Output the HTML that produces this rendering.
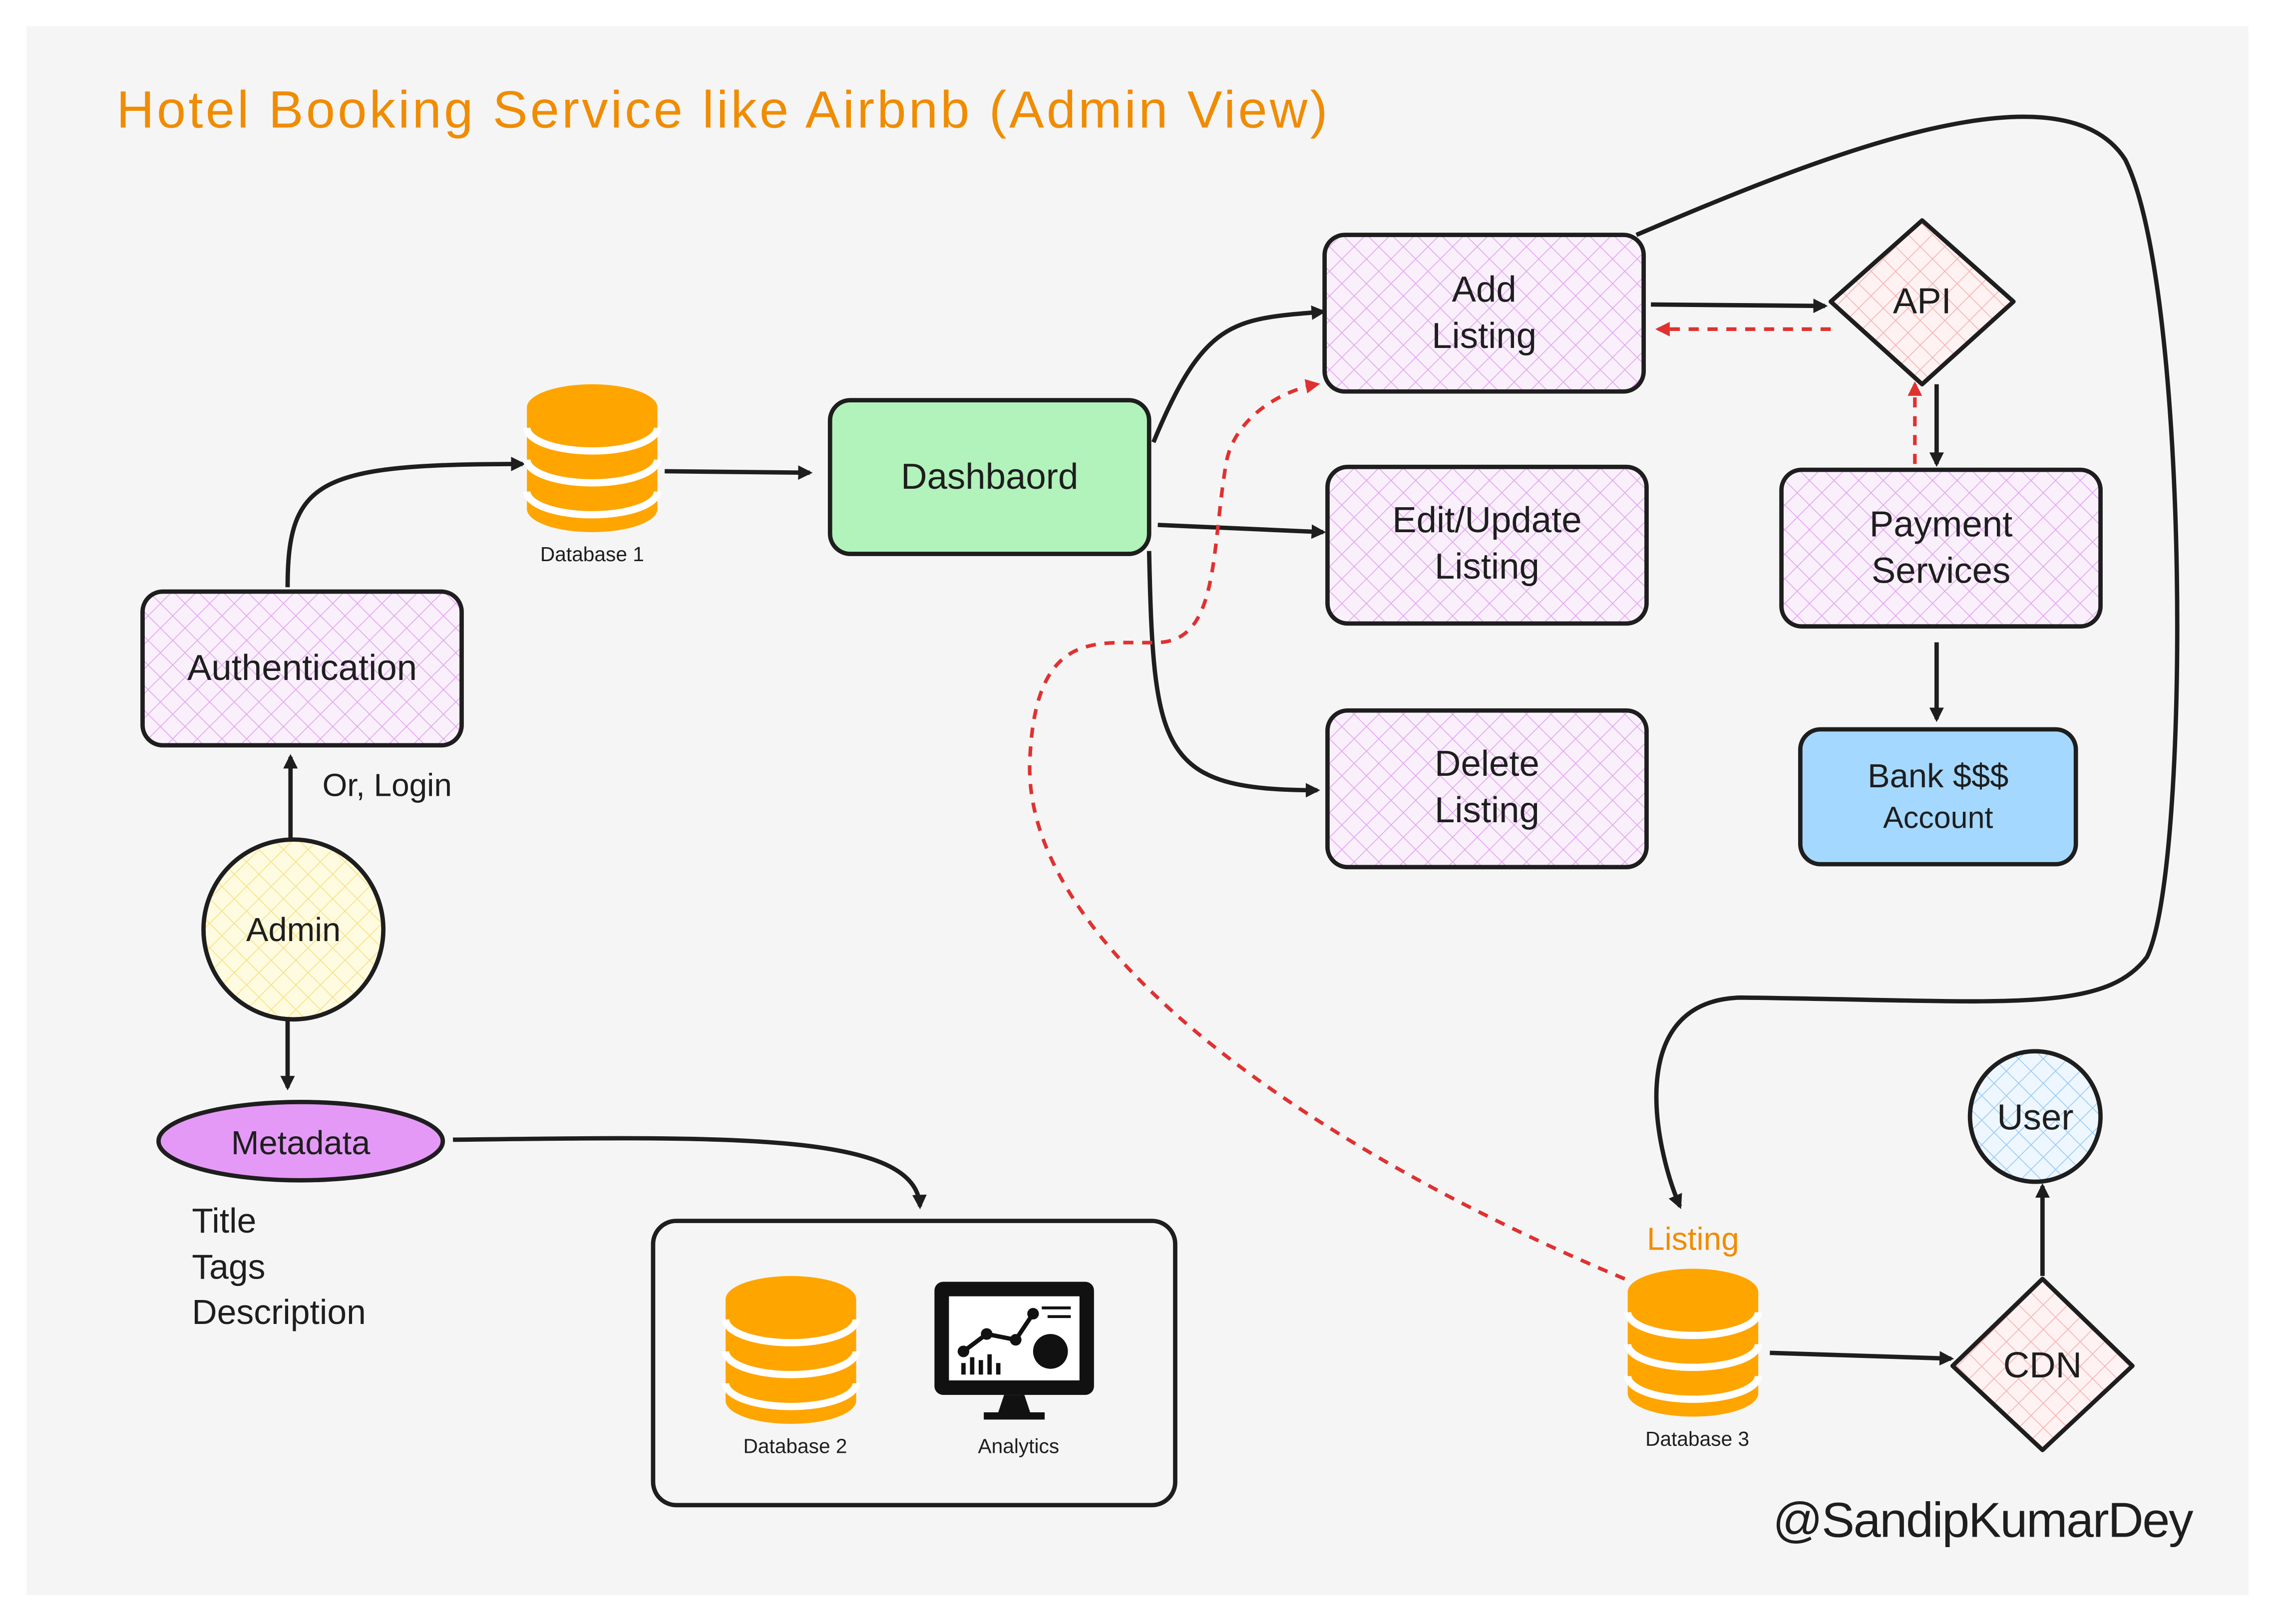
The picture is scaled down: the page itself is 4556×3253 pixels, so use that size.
<!DOCTYPE html>
<html><head><meta charset="utf-8"><style>
html,body{margin:0;padding:0;background:#fff;}
svg{display:block;}
text{font-family:"Liberation Sans",sans-serif;fill:#1e1e1e;}
</style></head><body>
<svg width="4556" height="3253" viewBox="0 0 1568 1120" xmlns="http://www.w3.org/2000/svg">
<defs>
<pattern id="hp" width="12" height="12" patternUnits="userSpaceOnUse" patternTransform="rotate(45)"><rect width="12" height="12" fill="#faf0fc"/><path d="M0 0V12M0 0H12" stroke="#e2a8ef" stroke-width="1.2"/></pattern>
<pattern id="hy" width="12" height="12" patternUnits="userSpaceOnUse" patternTransform="rotate(45)"><rect width="12" height="12" fill="#fffbe0"/><path d="M0 0V12M0 0H12" stroke="#f5e28a" stroke-width="1.2"/></pattern>
<pattern id="hr" width="12" height="12" patternUnits="userSpaceOnUse" patternTransform="rotate(45)"><rect width="12" height="12" fill="#fff2f2"/><path d="M0 0V12M0 0H12" stroke="#f5b5b5" stroke-width="1.2"/></pattern>
<pattern id="hb" width="12" height="12" patternUnits="userSpaceOnUse" patternTransform="rotate(45)"><rect width="12" height="12" fill="#eef7ff"/><path d="M0 0V12M0 0H12" stroke="#9ccbf5" stroke-width="1.2"/></pattern>
<marker id="a" markerWidth="10" markerHeight="10" refX="8" refY="5" orient="auto" markerUnits="userSpaceOnUse"><path d="M0,0 L10,5 L0,10 z" fill="#1e1e1e"/></marker>
<marker id="ar" markerWidth="10" markerHeight="10" refX="8" refY="5" orient="auto" markerUnits="userSpaceOnUse"><path d="M0,0 L10,5 L0,10 z" fill="#e03131"/></marker>
<g id="db">
<path d="M0,16 V86 A45,16 0 0 0 90,86 V16" fill="#ffa500"/>
<ellipse cx="45" cy="16" rx="45" ry="16" fill="#ffa500"/>
<path d="M0,30 A45,16 0 0 0 90,30 M0,52 A45,16 0 0 0 90,52 M0,74 A45,16 0 0 0 90,74" fill="none" stroke="#fff" stroke-width="5"/>
</g>
</defs>
<rect width="1568" height="1120" fill="#fff"/>
<rect x="18" y="18" width="1532" height="1082" fill="#f5f5f5"/>

<text x="80" y="88" font-size="36" fill="#f08c00" style="fill:#f08c00" textLength="835">Hotel Booking Service like Airbnb (Admin View)</text>

<g stroke="#1e1e1e" stroke-width="3" fill="none">
<path d="M198,405 C198,330 220,320 360,320" marker-end="url(#a)"/>
<path d="M458,325 L558,326" marker-end="url(#a)"/>
<path d="M795,305 C830,220 850,220 912,215" marker-end="url(#a)"/>
<path d="M798,362 L912,367" marker-end="url(#a)"/>
<path d="M792,380 C795,520 800,545 908,545" marker-end="url(#a)"/>
<path d="M1138,210 L1258,211" marker-end="url(#a)"/>
<path d="M1335,265 L1335,320" marker-end="url(#a)"/>
<path d="M1335,443 L1335,496" marker-end="url(#a)"/>
<path d="M200,578 L200,522" marker-end="url(#a)"/>
<path d="M198,700 L198,750" marker-end="url(#a)"/>
<path d="M312,786 C500,784 632,780 634,832" marker-end="url(#a)"/>
<path d="M1220,933 L1345,937" marker-end="url(#a)"/>
<path d="M1408,880 L1408,818" marker-end="url(#a)"/>
<path d="M1128,162 C1250,110 1420,40 1465,110 C1510,200 1510,600 1480,660 C1450,700 1380,690 1200,688 C1120,690 1140,790 1158,832" marker-end="url(#a)"/>
</g>
<g stroke="#e03131" stroke-width="2.5" fill="none" stroke-dasharray="7,6">
<path d="M1262,227 L1143,227" marker-end="url(#ar)"/>
<path d="M1320,320 L1320,265" marker-end="url(#ar)"/>
<path d="M1120,882 C900,790 700,650 710,520 C715,430 760,445 800,443 C840,440 835,380 845,320 C850,290 880,270 908,265" marker-end="url(#ar)"/>
</g>

<g stroke="#1e1e1e" stroke-width="3">
<rect x="572" y="276" width="220" height="106" rx="14" fill="#b2f2bb"/>
<rect x="98" y="408" width="220" height="106" rx="14" fill="url(#hp)"/>
<rect x="913" y="162" width="220" height="108" rx="14" fill="url(#hp)"/>
<rect x="915" y="322" width="220" height="108" rx="14" fill="url(#hp)"/>
<rect x="915" y="490" width="220" height="108" rx="14" fill="url(#hp)"/>
<rect x="1228" y="324" width="220" height="108" rx="14" fill="url(#hp)"/>
<rect x="1241" y="503" width="190" height="93" rx="14" fill="#a5d8ff"/>
<path d="M1325,152 L1388,208 L1325,265 L1262,208 Z" fill="url(#hr)" stroke-linejoin="round"/>
<path d="M1408,882 L1470,942 L1408,1000 L1346,942 Z" fill="url(#hr)" stroke-linejoin="round"/>
<circle cx="1403" cy="770" r="45" fill="url(#hb)"/>
<circle cx="202" cy="641" r="62" fill="url(#hy)"/>
<ellipse cx="207" cy="787" rx="98" ry="27" fill="#e599f7"/>
<rect x="450" y="842" width="360" height="196" rx="16" fill="none"/>
</g>

<use href="#db" x="363" y="265"/>
<use href="#db" x="500" y="880"/>
<use href="#db" x="1122" y="875"/>

<g transform="translate(640,880)">
<rect x="4" y="4" width="110" height="78" rx="6" fill="#111"/>
<rect x="14" y="14" width="90" height="58" fill="#fff"/>
<path d="M52,82 L66,82 L70,94 L48,94 Z M38,94 H80 V99 H38 Z" fill="#111"/>
<polyline points="24,52 40,40 60,44 72,26" fill="none" stroke="#111" stroke-width="3"/>
<circle cx="24" cy="52" r="4" fill="#111"/><circle cx="40" cy="40" r="4" fill="#111"/><circle cx="60" cy="44" r="4" fill="#111"/><circle cx="72" cy="26" r="4" fill="#111"/>
<circle cx="84" cy="52" r="12" fill="#111"/>
<path d="M24,68 V60 M30,68 V56 M36,68 V58 M42,68 V54 M48,68 V60" stroke="#111" stroke-width="3"/>
<path d="M78,22 H98 M82,28 H98" stroke="#111" stroke-width="2"/>
</g>

<g font-size="25" text-anchor="middle">
<text x="682" y="337">Dashbaord</text>
<text x="208" y="469">Authentication</text>
<text x="1023" y="208">Add</text><text x="1023" y="240">Listing</text>
<text x="1025" y="367">Edit/Update</text><text x="1025" y="399">Listing</text>
<text x="1025" y="535">Delete</text><text x="1025" y="567">Listing</text>
<text x="1338" y="370">Payment</text><text x="1338" y="402">Services</text>
<text x="1336" y="543" font-size="23">Bank $$$</text><text x="1336" y="571" font-size="21">Account</text>
<text x="1325" y="216">API</text>
<text x="1408" y="950">CDN</text>
<text x="1403" y="779">User</text>
<text x="202" y="649" font-size="23">Admin</text>
<text x="207" y="796" font-size="23">Metadata</text>
<text x="1167" y="862" font-size="22" style="fill:#f08c00">Listing</text>
</g>
<g font-size="24">
<text x="222" y="549" font-size="22">Or, Login</text>
<text x="132" y="850">Title</text>
<text x="132" y="882">Tags</text>
<text x="132" y="913">Description</text>
</g>
<g font-size="14" text-anchor="middle">
<text x="408" y="387">Database 1</text>
<text x="548" y="1002">Database 2</text>
<text x="702" y="1002">Analytics</text>
<text x="1170" y="997">Database 3</text>
</g>
<text x="1222" y="1060" font-size="34" textLength="290">@SandipKumarDey</text>
</svg>
</body></html>
